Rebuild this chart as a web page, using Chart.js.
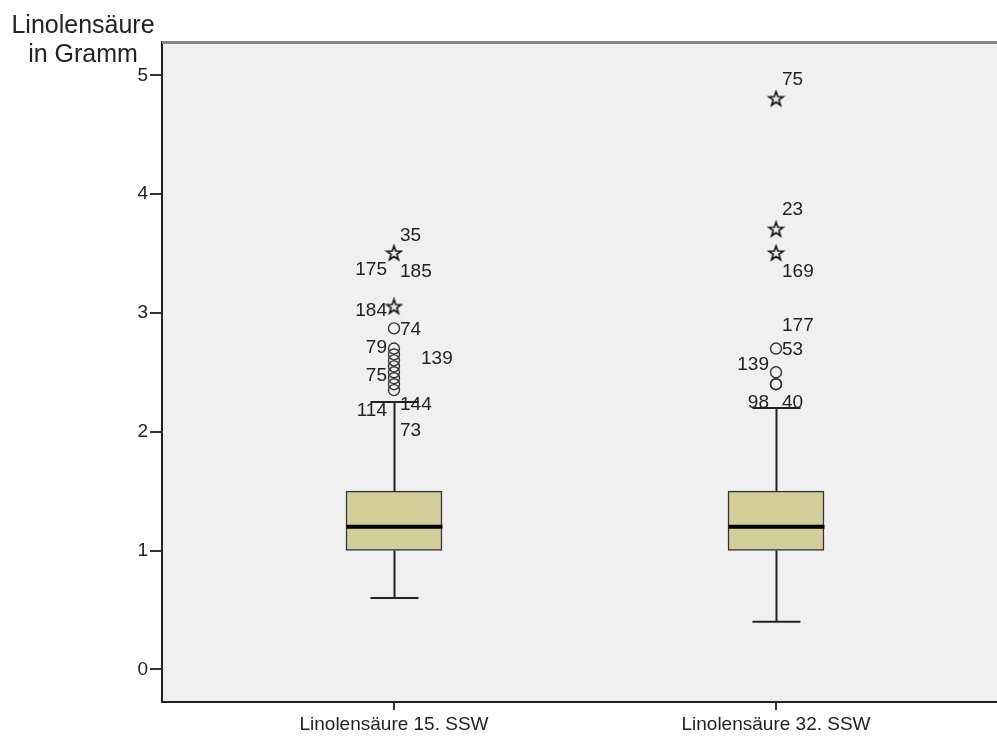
<!DOCTYPE html>
<html>
<head>
<meta charset="utf-8">
<script src="https://cdn.jsdelivr.net/npm/chart.js@4.4.1/dist/chart.umd.min.js"></script>
<style>
  html, body { margin: 0; padding: 0; background: #fff; overflow: hidden; }
  canvas { display: block; }
</style>
</head>
<body>
<canvas id="chart" width="997" height="745"></canvas>
<script>
// categories and box statistics
const categories = ['Linolensäure 15. SSW', 'Linolensäure 32. SSW'];
const lowerWhisker = [0.6, 0.4];
const q1 = [1.0, 1.0];
const median = [1.2, 1.2];
const q3 = [1.5, 1.5];
const upperWhisker = [2.25, 2.2];

// outliers (o) and extremes (*)
const circles15 = [2.87, 2.7, 2.65, 2.6, 2.55, 2.5, 2.45, 2.4, 2.35];
const stars15 = [3.5, 3.05];
const circles32 = [2.7, 2.5, 2.4, 2.4];
const stars32 = [4.8, 3.7, 3.5];

// case number labels
const labelIds15 = ['35', '175', '185', '184', '74', '79', '139', '75', '114', '144', '73'];
const labelAt15 = [3.65, 3.36, 3.35, 3.02, 2.86, 2.71, 2.61, 2.47, 2.18, 2.23, 2.01];
const labelSide15 = ['r', 'l', 'r', 'l', 'r', 'l', 'rr', 'l', 'l', 'r', 'r'];
const labelIds32 = ['75', '23', '169', '177', '53', '139', '98', '40'];
const labelAt32 = [4.96, 3.87, 3.35, 2.89, 2.69, 2.56, 2.24, 2.24];
const labelSide32 = ['r', 'r', 'r', 'r', 'r', 'l', 'l', 'r'];

const yTicks = [0, 1, 2, 3, 4, 5];
const axisTitle = ['Linolensäure', 'in Gramm'];

const FONT = "'Liberation Sans', Arial, sans-serif";

// star marker
function makeStar() {
    var c = document.createElement('canvas');
    c.width = 19; c.height = 19;
    var g = c.getContext('2d');
    g.strokeStyle = '#111';
    g.lineWidth = 1.6;
    g.beginPath();
    for (var i = 0; i < 10; i++) {
        var r = (i % 2 === 0) ? 7.6 : 3;
        var a = -Math.PI / 2 + i * Math.PI / 5;
        var px = 9.5 + r * Math.cos(a), py = 9.5 + r * Math.sin(a);
        if (i === 0) g.moveTo(px, py); else g.lineTo(px, py);
    }
    g.closePath();
    g.stroke();
    return c;
}
const starImg = makeStar();

function pts(cat, arr) {
    return arr.map(function (v) { return { x: cat, y: v }; });
}

const bgPlugin = {
    id: 'bg',
    beforeDraw: function (chart) {
        var a = chart.chartArea, ctx = chart.ctx;
        ctx.save();
        ctx.fillStyle = '#fff';
        ctx.fillRect(0, 0, chart.width, chart.height);
        ctx.fillStyle = '#f0f0f0';
        ctx.fillRect(a.left, a.top, a.right - a.left, a.bottom - a.top);
        ctx.restore();
    },
    afterDraw: function (chart) {
        var a = chart.chartArea, ctx = chart.ctx;
        ctx.save();
        // top frame line
        ctx.strokeStyle = '#858585';
        ctx.lineWidth = 3;
        ctx.beginPath();
        ctx.moveTo(a.left, a.top + 0.5);
        ctx.lineTo(a.right, a.top + 0.5);
        ctx.stroke();
        // axis title
        ctx.fillStyle = '#222';
        ctx.font = '25px ' + FONT;
        ctx.textAlign = 'center';
        ctx.textBaseline = 'alphabetic';
        ctx.fillText(axisTitle[0], 83, 33);
        ctx.fillText(axisTitle[1], 83, 62);
        ctx.restore();
    }
};

const boxPlugin = {
    id: 'boxparts',
    afterDatasetDraw: function (chart, args) {
        if (args.meta.type !== 'bar') return;
        var ctx = chart.ctx, xs = chart.scales.x, ys = chart.scales.y;
        ctx.save();
        for (var i = 0; i < categories.length; i++) {
            var cx = Math.round(xs.getPixelForValue(i + 1)) + 0.5;
            var half = args.meta.data[i].width / 2;
            ctx.strokeStyle = '#222';
            ctx.lineWidth = 2;
            ctx.beginPath();
            ctx.moveTo(cx, ys.getPixelForValue(q3[i]));
            ctx.lineTo(cx, ys.getPixelForValue(upperWhisker[i]));
            ctx.moveTo(cx, ys.getPixelForValue(q1[i]));
            ctx.lineTo(cx, ys.getPixelForValue(lowerWhisker[i]));
            ctx.moveTo(cx - 24, ys.getPixelForValue(upperWhisker[i]));
            ctx.lineTo(cx + 24, ys.getPixelForValue(upperWhisker[i]));
            ctx.moveTo(cx - 24, ys.getPixelForValue(lowerWhisker[i]));
            ctx.lineTo(cx + 24, ys.getPixelForValue(lowerWhisker[i]));
            ctx.stroke();
            ctx.strokeStyle = '#000';
            ctx.lineWidth = 4;
            ctx.beginPath();
            ctx.moveTo(cx - half, ys.getPixelForValue(median[i]));
            ctx.lineTo(cx + half, ys.getPixelForValue(median[i]));
            ctx.stroke();
        }
        ctx.restore();
    },
    afterDatasetsDraw: function (chart) {
        var ctx = chart.ctx, xs = chart.scales.x, ys = chart.scales.y;
        var groups = [[labelIds15, labelAt15, labelSide15], [labelIds32, labelAt32, labelSide32]];
        ctx.save();
        ctx.fillStyle = '#222';
        ctx.font = '19px ' + FONT;
        ctx.textBaseline = 'middle';
        groups.forEach(function (g, i) {
            var cx = xs.getPixelForValue(i + 1);
            g[0].forEach(function (t, k) {
                var y = ys.getPixelForValue(g[1][k]);
                if (g[2][k] === 'l') { ctx.textAlign = 'right'; ctx.fillText(t, cx - 7, y); }
                else if (g[2][k] === 'rr') { ctx.textAlign = 'left'; ctx.fillText(t, cx + 27, y); }
                else { ctx.textAlign = 'left'; ctx.fillText(t, cx + 6, y); }
            });
        });
        ctx.restore();
    }
};

const circleStyle = {
    type: 'scatter',
    pointStyle: 'circle',
    pointRadius: 5.5,
    borderColor: '#333',
    backgroundColor: 'rgba(0,0,0,0)',
    borderWidth: 1.4,
    order: 1
};

new Chart(document.getElementById('chart'), {
    type: 'bar',
    data: {
        datasets: [{
            type: 'bar',
            data: categories.map(function (c, i) { return { x: i + 1, y: [q1[i], q3[i]] }; }),
            backgroundColor: '#d3ce99',
            borderColor: '#333',
            borderWidth: 1.5,
            borderSkipped: false,
            barThickness: 96,
            order: 2
        },
        Object.assign({ data: pts(1, circles15) }, circleStyle),
        Object.assign({ data: pts(2, circles32) }, circleStyle),
        {
            type: 'scatter',
            data: pts(1, stars15).concat(pts(2, stars32)),
            pointStyle: starImg,
            order: 1
        }]
    },
    options: {
        responsive: false,
        animation: false,
        layout: { autoPadding: false, padding: { top: 42, right: 0, left: 0, bottom: 0 } },
        plugins: {
            legend: { display: false },
            tooltip: { enabled: false }
        },
        scales: {
            x: {
                type: 'linear',
                min: 0.3927,
                max: 2.5785,
                offset: false,
                afterBuildTicks: function (scale) {
                    scale.ticks = categories.map(function (c, i) { return { value: i + 1 }; });
                },
                afterFit: function (scale) {
                    scale.height = 43;
                    scale.paddingLeft = 0;
                    scale.paddingRight = 0;
                },
                grid: {
                    offset: false,
                    drawOnChartArea: false,
                    drawTicks: true,
                    tickLength: 8,
                    color: '#333',
                    lineWidth: 2
                },
                border: { display: true, color: '#222', width: 2 },
                ticks: {
                    padding: 3,
                    color: '#222',
                    font: { size: 19, family: FONT },
                    maxRotation: 0,
                    autoSkip: false,
                    callback: function (v) { return categories[v - 1]; }
                }
            },
            y: {
                min: -0.275,
                max: 5.28,
                afterBuildTicks: function (scale) {
                    scale.ticks = yTicks.map(function (v) { return { value: v }; });
                },
                afterFit: function (scale) { scale.width = 162; },
                grid: {
                    drawOnChartArea: false,
                    drawTicks: true,
                    tickLength: 12,
                    color: '#333',
                    lineWidth: 2
                },
                border: { display: true, color: '#222', width: 2 },
                ticks: {
                    padding: 2,
                    color: '#222',
                    font: { size: 19, family: FONT },
                    callback: function (v) { return v; }
                }
            }
        }
    },
    plugins: [bgPlugin, boxPlugin]
});
</script>
</body>
</html>
